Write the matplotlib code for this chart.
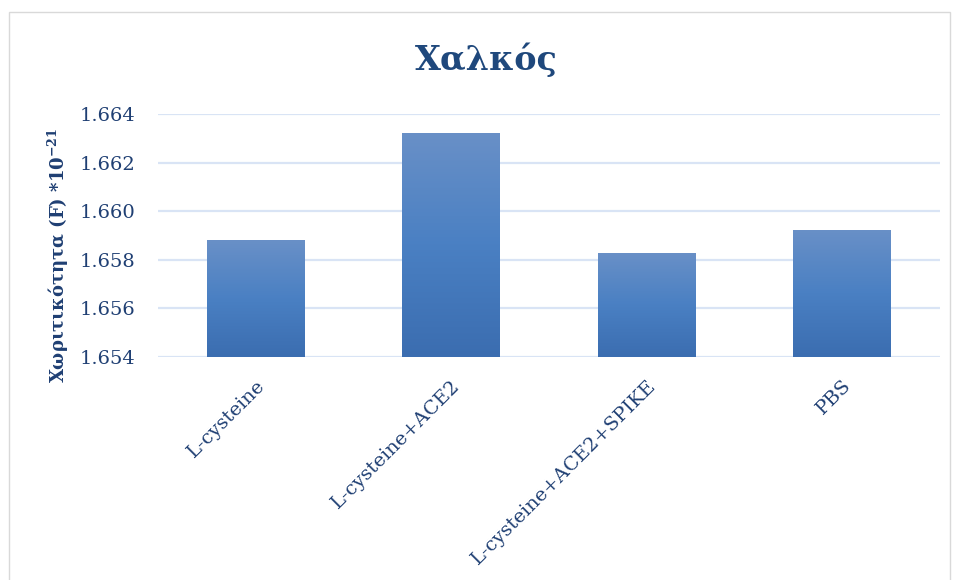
import numpy as np
import matplotlib.pyplot as plt
from matplotlib.patches import Rectangle
from matplotlib.colors import LinearSegmentedColormap

categories = ["L-cysteine", "L-cysteine+ACE2", "L-cysteine+ACE2+SPIKE", "PBS"]
capacitance = [1.65881, 1.66322, 1.65828, 1.65923]
y_ticks = [1.654, 1.656, 1.658, 1.660, 1.662, 1.664]

plt.rcParams['font.family'] = ['DejaVu Serif']
plt.rcParams['mathtext.fontset'] = 'dejavuserif'

text_col = "#1F3F73"
grid_col = "#D9E4F5"
grad = LinearSegmentedColormap.from_list("bar", ["#3B6DB0", "#4A80C3", "#6990C7"])

fig = plt.figure(figsize=(9.56, 5.8), dpi=100)
ax = fig.add_axes([0.165, 0.3845, 0.818, 0.419])

x = np.arange(len(categories))
bars = ax.bar(x, capacitance, width=0.5, bottom=0, color="none", zorder=3)

# vertical gradient fill for each bar
g = np.linspace(0, 1, 256).reshape(-1, 1)
for b in bars:
    x0, w, h = b.get_x(), b.get_width(), b.get_height()
    im = ax.imshow(g, cmap=grad, origin="lower", aspect="auto",
                   extent=[x0, x0 + w, y_ticks[0], h], zorder=3)
    im.set_clip_path(b)
ax.set_xlim(-0.5, len(categories) - 0.5)
ax.set_ylim(y_ticks[0], y_ticks[-1])

ax.set_yticks(y_ticks)
ax.set_yticklabels([f"{t:.3f}" for t in y_ticks])
ax.set_xticks(x)
ax.set_xticklabels(categories, rotation=45, ha="right", rotation_mode="anchor")
ax.tick_params(axis="both", length=0, colors=text_col, labelsize=14)
ax.tick_params(axis="y", pad=16)
ax.tick_params(axis="x", pad=14)
for s in ax.spines.values():
    s.set_visible(False)
ax.yaxis.grid(True, color=grid_col, linewidth=1.6, zorder=0)
ax.set_axisbelow(True)

fig.text(0.061, 0.56, r"Χωριτικότητα (F) *10$^{\mathbf{-21}}$", rotation=90,
         ha="center", va="center", fontsize=13, fontweight="bold", color=text_col)
fig.text(0.509, 0.897, "Χαλκός", ha="center", va="center",
         fontsize=24, fontweight="bold", color="#1F487C")

# light frame around the chart area
fig.patches.append(Rectangle((0.009, -0.02), 0.985, 1.0, transform=fig.transFigure,
                             fill=False, edgecolor="#D9D9D9", linewidth=1.0))

fig.savefig("out.png", dpi=100)
